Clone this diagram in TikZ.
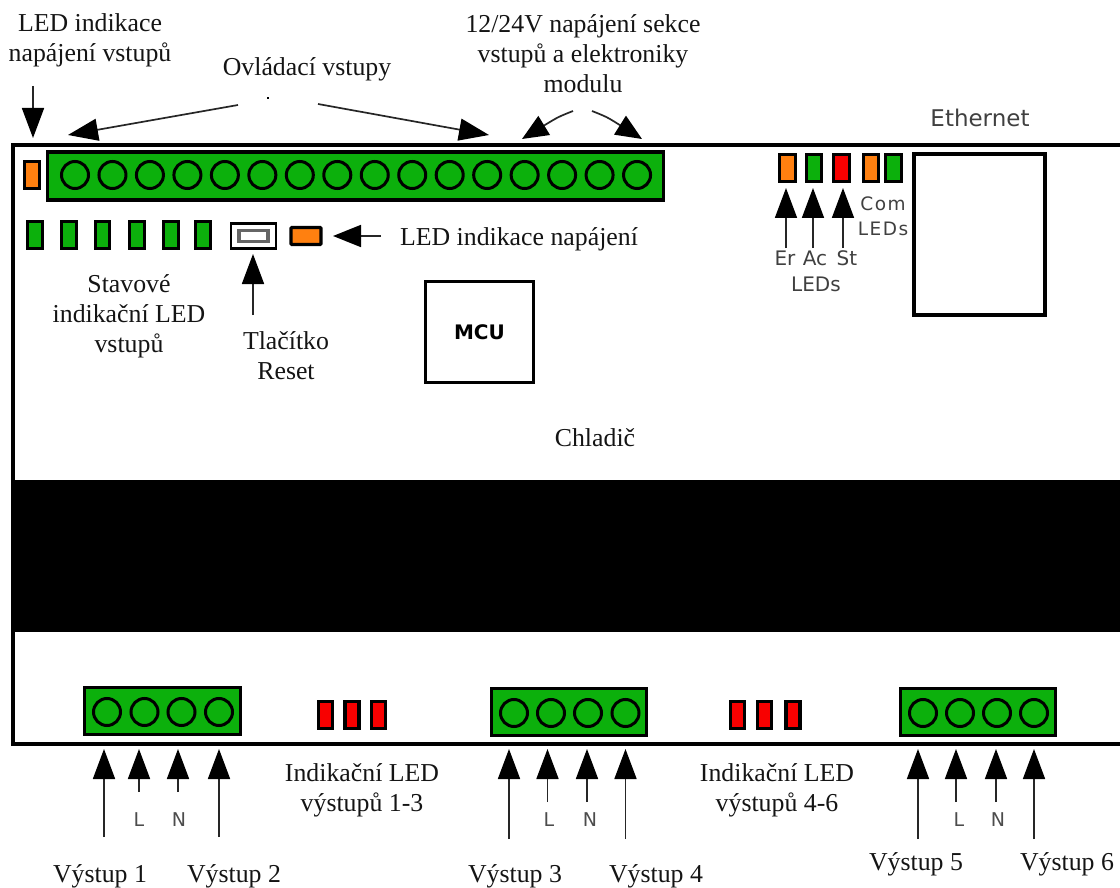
\documentclass[tikz,border=0pt]{standalone}
\usepackage{fontspec}
\setmainfont{Liberation Serif}
\newfontfamily\djv{DejaVu Sans}
\usetikzlibrary{arrows.meta}
\definecolor{ledg}{HTML}{0CB00C}
\definecolor{ledo}{HTML}{FF8010}
\definecolor{ledr}{HTML}{F80000}
\tikzset{
 x=1pt,y=-1pt,
 lbl/.style={font=\fontsize{25.8}{30}\selectfont,align=center,inner sep=0,text=black!92},
 sans/.style={font=\djv\fontsize{20}{26}\selectfont,align=center,inner sep=0,text=black!75},
 pinlbl/.style={font=\djv\fontsize{19}{20}\selectfont,text=black!70,inner sep=0},
 led/.style={draw=black,line width=3.2pt,minimum width=#1,minimum height=27pt,inner sep=0,rectangle},
 led/.default=14pt,
 block/.style={draw=black,fill=ledg,line width=3.2pt,rectangle,inner sep=0,minimum height=#1},
 pin/.style={draw=black,line width=3pt,circle,minimum size=27pt,inner sep=0},
 arr/.style={draw=black!85,line width=1.7pt,-{Triangle[length=30pt,width=22pt,fill=black,color=black]}},
 sarr/.style={draw=black!85,line width=1.7pt,-{Triangle[length=26pt,width=22pt,fill=black,color=black]}},
}
\begin{document}
\begin{tikzpicture}
\useasboundingbox (0,0) rectangle (1120,888);
% body
\fill[black] (13,480) rectangle (1120,632);
\draw[line width=4pt,black] (1120,145.5) -- (13,145.5) -- (13,743.5) -- (1120,743.5);
% top block
\node[block=48pt,minimum width=616pt] (topblock) at (355.5,176) {};
\foreach \i in {0,...,15}{ \node[pin] (tp\i) at ({75+37.47*\i},175) {}; }
% leds
\node[led=14.5pt,fill=ledo] (pled) at (32,175) {};
\foreach \x/\n in {35/a,69/b,102.5/c,137/d,171/e,203/f}{ \node[led=14.5pt,fill=ledg] (stat\n) at (\x,235) {}; }
% reset
\node[draw=black,line width=2.5pt,fill=white,minimum width=45pt,minimum height=25pt,inner sep=0] (reset) at (253.5,236) {};
\node[draw=black!60,line width=3.5pt,fill=white,minimum width=29pt,minimum height=11pt,inner sep=0] (resetin) at (253.5,236) {};
\node[led=30pt,fill=ledo,minimum height=17pt,rounded corners=1pt] (powled) at (306,236) {};
% MCU / Ethernet
\node[draw=black,line width=3pt,minimum width=108pt,minimum height=101pt,inner sep=0,font=\djv\bfseries\fontsize{20}{22}\selectfont] (mcu) at (479.5,332) {MCU};
\node[draw=black,line width=3.5pt,minimum width=131pt,minimum height=161pt,inner sep=0] (eth) at (979.5,234.5) {};
\node[sans,font=\djv\fontsize{23}{26}\selectfont] (ethl) at (980,118) {Ethernet};
% right leds
\node[led=15.5pt,fill=ledo] (er) at (787.5,168) {};
\node[led=15.5pt,fill=ledg] (ac) at (814,168) {};
\node[led=15.5pt,fill=ledr] (st) at (841.5,168) {};
\node[led=15.5pt,fill=ledo] (c1) at (871,168) {};
\node[led=15.5pt,fill=ledg] (c2) at (893.5,168) {};
\node[sans] (erl) at (785,258) {Er};
\node[sans] (acl) at (815,258) {Ac};
\node[sans] (stl) at (847,258) {St};
\node[sans] (ell) at (816,284) {LEDs};
\node[sans,font=\djv\fontsize{18.5}{25}\selectfont] (coml) at (883,216.5) {\addfontfeature{LetterSpace=8}Com\\\addfontfeature{LetterSpace=8}LEDs};
\coordinate (ers) at (786,248);
\coordinate (acs) at (813,248);
\coordinate (sts) at (843,248);
\coordinate (ert) at (786,188);
\coordinate (act) at (813,188);
\coordinate (stt) at (843,188);
\draw[arr] (ers) -- (ert);
\draw[arr] (acs) -- (act);
\draw[arr] (sts) -- (stt);
% top labels
\node[lbl] (l1) at (90,40) {LED indikace\\napájení vstupů};
\node[lbl] (l2) at (307,69) {Ovládací vstupy};
\node[lbl] (l3) at (583,54) {12/24V napájení sekce\\vstupů a elektroniky\\modulu};
\node[lbl] (l4) at (519,239) {LED indikace napájení};
\node[lbl] (l5) at (129,316) {Stavové\\indikační LED\\vstupů};
\node[lbl] (l6) at (286,356) {Tlačítko\\Reset};
\node[lbl] (l7) at (595,438) {Chladič};
\fill[black] (266.5,97) rectangle (268.5,99.5);
% arrows top
\coordinate (a1) at (33,86);
\coordinate (a1e) at (33,138);
\draw[arr] (a1) -- (a1e);
\coordinate (o0) at (238,105); \coordinate (o1) at (68,135);
\coordinate (o2) at (318,104); \coordinate (o3) at (489,135);
\draw[arr] (o0) -- (o1);
\draw[arr] (o2) -- (o3);
\coordinate (p0) at (573,111); \coordinate (p1) at (522,139);
\coordinate (p2) at (592,111); \coordinate (p3) at (642,139);
\draw[sarr] (p0) .. controls (558,117) .. (p1);
\draw[sarr] (p2) .. controls (607,117) .. (p3);
\coordinate (b0) at (381,236);
\coordinate (b1) at (333,236);
\draw[line width=1.7pt,black!85,-{Triangle[length=28pt,width=22pt,fill=black,color=black]}] (b0) -- (b1);
\coordinate (r0) at (253,315);
\coordinate (r1) at (253,254);
\draw[arr] (r0) -- (r1);
% bottom blocks
\node[block=47pt,minimum width=156pt] (bA) at (162.5,711) {};
\node[block=47pt,minimum width=155pt] (bB) at (569,712) {};
\node[block=47pt,minimum width=155pt] (bC) at (978,712) {};
\foreach \x/\n in {107/a,144.5/b,181.5/c,219/d}{\node[pin] (pA\n) at (\x,712) {};}
\foreach \x/\n in {514/a,551/b,588/c,625.5/d}{\node[pin] (pB\n) at (\x,713) {};}
\foreach \x/\n in {923/a,960/b,997/c,1034/d}{\node[pin] (pC\n) at (\x,713) {};}
\foreach \x/\n in {325.5/a,352/b,378.5/c,737.5/d,764.5/e,793/f}{\node[led=14pt,fill=ledr] (out\n) at (\x,715) {};}
% bottom arrows
\foreach \x/\n/\yy in {104/a/837,139/b/792,178/c/792,219/d/837,509/e/839,547.5/f/802,587/g/802,625.5/h/839,918/i/839,956/j/802,996/k/802,1034/l/839}{
  \coordinate (src\n) at (\x,\yy);
  \coordinate (tip\n) at (\x,749);
  \draw[arr] (src\n) -- (tip\n);
}
\node[pinlbl] (La) at (139,820) {L};
\node[pinlbl] (Na) at (179,820) {N};
\node[pinlbl] (Lb) at (549,820) {L};
\node[pinlbl] (Nb) at (590,820) {N};
\node[pinlbl] (Lc) at (959,820) {L};
\node[pinlbl] (Nc) at (998,820) {N};
\node[lbl] (i1) at (362,790) {Indikační LED\\výstupů 1-3};
\node[lbl] (i2) at (777,790) {Indikační LED\\výstupů 4-6};
\node[lbl] (v1) at (100,876) {Výstup 1};
\node[lbl] (v2) at (234,876) {Výstup 2};
\node[lbl] (v3) at (515,876) {Výstup 3};
\node[lbl] (v4) at (656,876) {Výstup 4};
\node[lbl] (v5) at (916,864) {Výstup 5};
\node[lbl] (v6) at (1067,864) {Výstup 6};
\end{tikzpicture}
\end{document}
